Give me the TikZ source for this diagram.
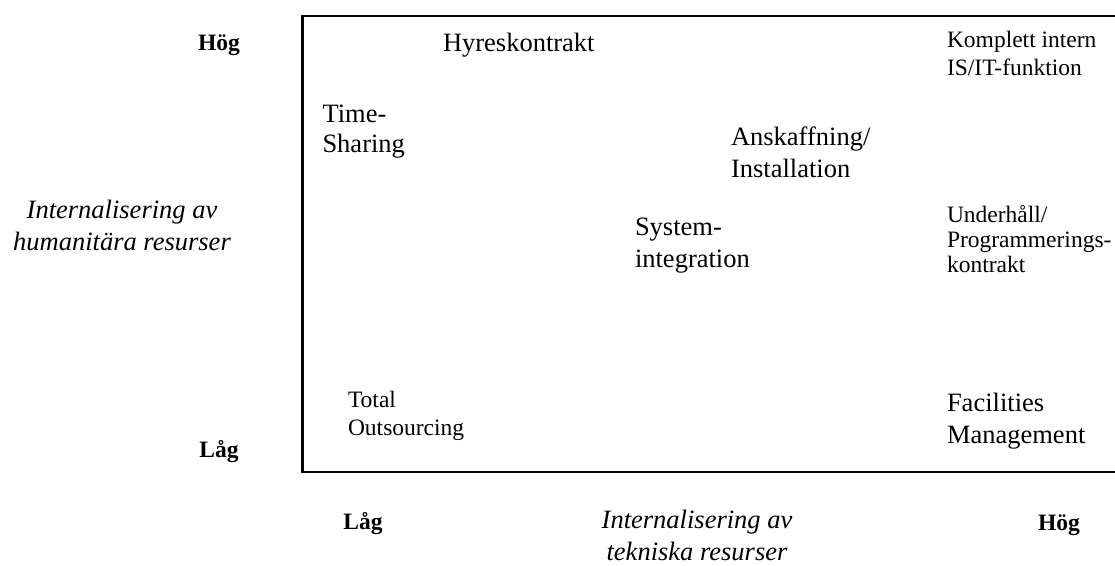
\documentclass[tikz,border=0pt]{standalone}
\usepackage{fontspec}
\setmainfont{Liberation Serif}
\begin{document}
\begin{tikzpicture}[x=1pt,y=-1pt,
  every node/.style={inner sep=0pt,outer sep=0pt,anchor=base west,align=left},
  big/.style={font=\fontsize{26.5}{31.5}\selectfont},
  small/.style={font=\fontsize{23.5}{27.5}\selectfont},
  level/.style={font=\fontsize{23.5}{27}\selectfont\bfseries,anchor=base},
  axis/.style={font=\fontsize{26.5}{32}\selectfont\itshape,align=center,anchor=base},
  frame/.style={line width=2.3pt}]
\useasboundingbox (0,0) rectangle (1115,565);

% matrix frame, open to the right
\coordinate (tr) at (1125,16);
\coordinate (tl) at (302.5,16);
\coordinate (bl) at (302.5,472);
\coordinate (br) at (1125,472);
\draw[frame] (tr) -- (tl) -- (bl) -- (br);

% vertical axis (multi-line nodes are placed by their last baseline)
\node[level] (yhigh) at (219,50) {Hög};
\node[level] (ylow) at (219,457) {Låg};
\node[axis] (ylabel) at (122,250) {Internalisering av\\humanitära resurser};

% horizontal axis
\node[level] (xlow) at (363,529) {Låg};
\node[level] (xhigh) at (1059,530) {Hög};
\node[axis] (xlabel) at (697,560) {Internalisering av\\tekniska resurser};

% alternatives inside the matrix
\node[big] (hyres) at (443,51) {Hyreskontrakt};
\node[big,font=\fontsize{26.5}{30}\selectfont] (time) at (322.5,152) {Time-\\Sharing};
\node[big] (ansk) at (731,177) {Anskaffning/\\Installation};
\node[big] (sysint) at (635,267) {System-\\integration};
\node[small] (komplett) at (947,75) {Komplett intern\\IS/IT-funktion};
\node[small,font=\fontsize{23.5}{25}\selectfont] (underh) at (947,272) {Underhåll/\\Programmerings-\\kontrakt};
\node[big] (facil) at (947,443) {Facilities\\Management};
\node[small] (total) at (348,435) {Total\\Outsourcing};
\end{tikzpicture}
\end{document}
